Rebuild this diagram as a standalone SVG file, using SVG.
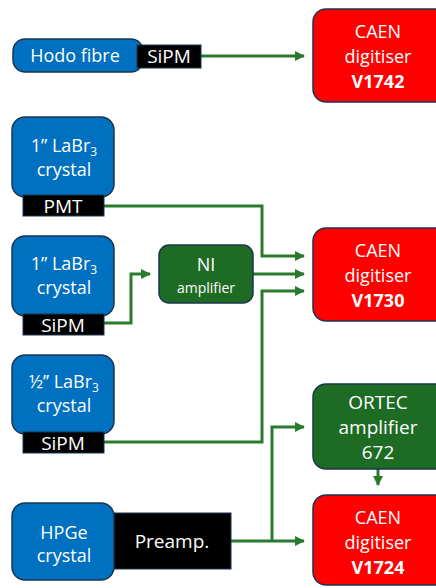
<svg xmlns="http://www.w3.org/2000/svg" width="436" height="588" viewBox="0 0 436 588">
<defs>
<style>
.blue{fill:#0070C0;stroke:#1B3550;stroke-width:1.5}
.red{fill:#FF0000;stroke:#1B3550;stroke-width:1.5}
.grn{fill:#1E6B24;stroke:#1B3550;stroke-width:1.5}
.blk{fill:#000;stroke:#1B3550;stroke-width:1}
text{font-family:"Open Sans","Liberation Sans",sans-serif;fill:#fff;text-anchor:middle}
.t{font-size:18px}
.l{font-size:19px}
.b{font-size:18px;font-weight:bold}
.s{font-size:14px}
.c{fill:none;stroke:#2A7A2E;stroke-width:3}
</style>
<marker id="ah" markerWidth="10" markerHeight="10" refX="9" refY="5" orient="auto" markerUnits="userSpaceOnUse">
<path d="M0,0 L10,5 L0,10 z" fill="#2A7A2E"/>
</marker>
</defs>
<g id="connectors">
<path class="c" d="M201,56 H304" marker-end="url(#ah)"/>
<path class="c" d="M104,206 H262 V256 H304" marker-end="url(#ah)"/>
<path class="c" d="M104,323 H131 V274 H150" marker-end="url(#ah)"/>
<path class="c" d="M253,274 H304" marker-end="url(#ah)"/>
<path class="c" d="M104,442 H262 V291 H304" marker-end="url(#ah)"/>
<path class="c" d="M231,541 H304" marker-end="url(#ah)"/>
<path class="c" d="M272,541 V427 H304" marker-end="url(#ah)"/>
<path class="c" d="M378,469 V485" marker-end="url(#ah)"/>
</g>
<g id="hodo">
<rect class="blue" x="13" y="39" width="130" height="33" rx="12"/>
<text class="t" x="75" y="62">Hodo fibre</text>
<rect class="blk" x="137" y="45" width="64" height="23"/>
<text class="l" x="169" y="63">SiPM</text>
</g>
<g id="caen1742">
<rect class="red" x="313" y="9" width="135" height="93" rx="13"/>
<text class="t" x="378" y="38">CAEN</text>
<text class="t" x="378" y="63">digitiser</text>
<text class="b" x="378" y="88">V1742</text>
</g>
<g id="labr1">
<rect class="blue" x="12" y="117" width="102" height="80" rx="13"/>
<text class="t" x="64" y="152">1’’ LaBr<tspan font-size="12" dy="4">3</tspan></text>
<text class="t" x="64" y="176">crystal</text>
<rect class="blk" x="23" y="195" width="81" height="21"/>
<text class="l" x="63" y="213">PMT</text>
</g>
<g id="labr2">
<rect class="blue" x="12" y="236" width="102" height="80" rx="13"/>
<text class="t" x="64" y="270">1’’ LaBr<tspan font-size="12" dy="4">3</tspan></text>
<text class="t" x="64" y="294">crystal</text>
<rect class="blk" x="23" y="314" width="81" height="21"/>
<text class="l" x="63" y="332">SiPM</text>
</g>
<g id="ni">
<rect class="grn" x="159" y="245" width="94" height="58" rx="10"/>
<text class="t" x="206" y="271">NI</text>
<text class="s" x="206" y="293">amplifier</text>
</g>
<g id="caen1730">
<rect class="red" x="313" y="228" width="135" height="93" rx="13"/>
<text class="t" x="378" y="257">CAEN</text>
<text class="t" x="378" y="282">digitiser</text>
<text class="b" x="378" y="307">V1730</text>
</g>
<g id="labr3">
<rect class="blue" x="12" y="355" width="102" height="79" rx="13"/>
<text class="t" x="64" y="388">½’’ LaBr<tspan font-size="12" dy="4">3</tspan></text>
<text class="t" x="64" y="412">crystal</text>
<rect class="blk" x="23" y="432" width="81" height="21"/>
<text class="l" x="63" y="450">SiPM</text>
</g>
<g id="ortec">
<rect class="grn" x="313" y="384" width="135" height="85" rx="13"/>
<text class="l" x="378" y="409">ORTEC</text>
<text class="l" x="378" y="434">amplifier</text>
<text class="l" x="378" y="459">672</text>
</g>
<g id="hpge">
<rect class="blk" x="110" y="513" width="121" height="56"/>
<text class="l" x="172" y="548">Preamp.</text>
<rect class="blue" x="12" y="503" width="102" height="77" rx="13"/>
<text class="t" x="64" y="539">HPGe</text>
<text class="t" x="64" y="562">crystal</text>
</g>
<g id="caen1724">
<rect class="red" x="313" y="495" width="135" height="90" rx="13"/>
<text class="t" x="378" y="524">CAEN</text>
<text class="t" x="378" y="549">digitiser</text>
<text class="b" x="378" y="574">V1724</text>
</g>
</svg>
